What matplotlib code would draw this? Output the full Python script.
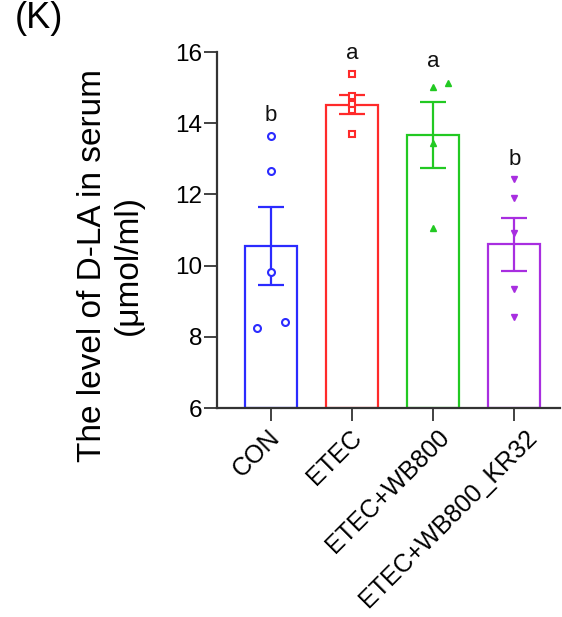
import matplotlib
matplotlib.use("Agg")
import matplotlib.pyplot as plt
import matplotlib.transforms as mtransforms
import numpy as np

plt.rcParams['font.family'] = ['Liberation Sans', 'DejaVu Sans']

categories = ["CON", "ETEC", "ETEC+WB800", "ETEC+WB800_KR32"]
means = [10.55, 14.52, 13.67, 10.60]
sems = [1.10, 0.27, 0.93, 0.74]
points = [
    [13.64, 12.66, 9.81, 8.26, 8.41],
    [15.38, 14.76, 14.55, 14.37, 13.69],
    [15.01, 15.12, 13.45, 11.06],
    [12.42, 11.90, 10.93, 9.35, 8.55],
]
point_offsets = [
    [0.0, 0.0, 0.0, -0.17, 0.17],
    [0.0, 0.0, 0.0, 0.0, 0.0],
    [0.0, 0.18, 0.0, 0.0],
    [0.0, 0.0, 0.0, 0.0, 0.0],
]
letters = ["b", "a", "a", "b"]
letter_y = [14.23, 15.97, 15.74, 12.99]
colors = ["#2b2bff", "#ff2a2a", "#22c922", "#a82ee0"]
markers = ["o", "s", "^", "v"]
filled = [False, False, True, True]

fig = plt.figure(figsize=(5.62, 6.17), dpi=100)
ax = fig.add_axes([0.386, 0.3387, 0.61, 0.577])

x = np.arange(len(categories))
for i in range(len(categories)):
    ax.bar(x[i], means[i] - 6, bottom=6, width=0.645, facecolor='white',
           edgecolor=colors[i], linewidth=1.6, zorder=2)
    ax.errorbar(x[i], means[i], yerr=sems[i], color=colors[i], capsize=9.7,
                capthick=1.6, elinewidth=1.6, zorder=3)
    xs = x[i] + np.array(point_offsets[i])
    if filled[i]:
        ax.plot(xs, points[i], linestyle='none', marker=markers[i], markersize=5,
                color=colors[i], zorder=4)
    else:
        ax.plot(xs, points[i], linestyle='none', marker=markers[i], markersize=5,
                markerfacecolor='white', markeredgecolor=colors[i], markeredgewidth=1.5,
                zorder=4)
    ax.text(x[i], letter_y[i], letters[i], ha='center', va='center', fontsize=16,
            color='#111111')

ax.set_ylim(6, 16)
ax.set_xlim(-0.665, 3.56)
ax.set_yticks([6, 8, 10, 12, 14, 16])
ax.set_xticks(x)
ax.set_xticklabels(categories, rotation=45, ha='right', va='top',
                   rotation_mode='anchor', fontsize=18)
ax.tick_params(axis='y', labelsize=17.5, length=9.5, width=1.3, color='#333333', pad=1)
ax.tick_params(axis='x', length=9, width=1.3, color='#333333', pad=3.5)
for s in ['top', 'right']:
    ax.spines[s].set_visible(False)
for s in ['left', 'bottom']:
    ax.spines[s].set_linewidth(1.6)
    ax.spines[s].set_color('#333333')

# longer labels sit slightly further right, as in the original layout
for lab in ax.get_xticklabels():
    n = len(lab.get_text())
    lab.set_transform(lab.get_transform() +
                      mtransforms.ScaledTranslation((1.1 * (n - 6)) / 100, 0,
                                                    fig.dpi_scale_trans))

fig.text(110 / 562, 1 - 265 / 617, "The level of D-LA in serum\n(μmol/ml)",
         fontsize=24, rotation=90, ha='center', va='center', ma='center',
         linespacing=1.2)

fig.text(0.027, 0.970, "(K)", fontsize=26, ha='left', va='center')

fig.savefig("out.png", dpi=100)
